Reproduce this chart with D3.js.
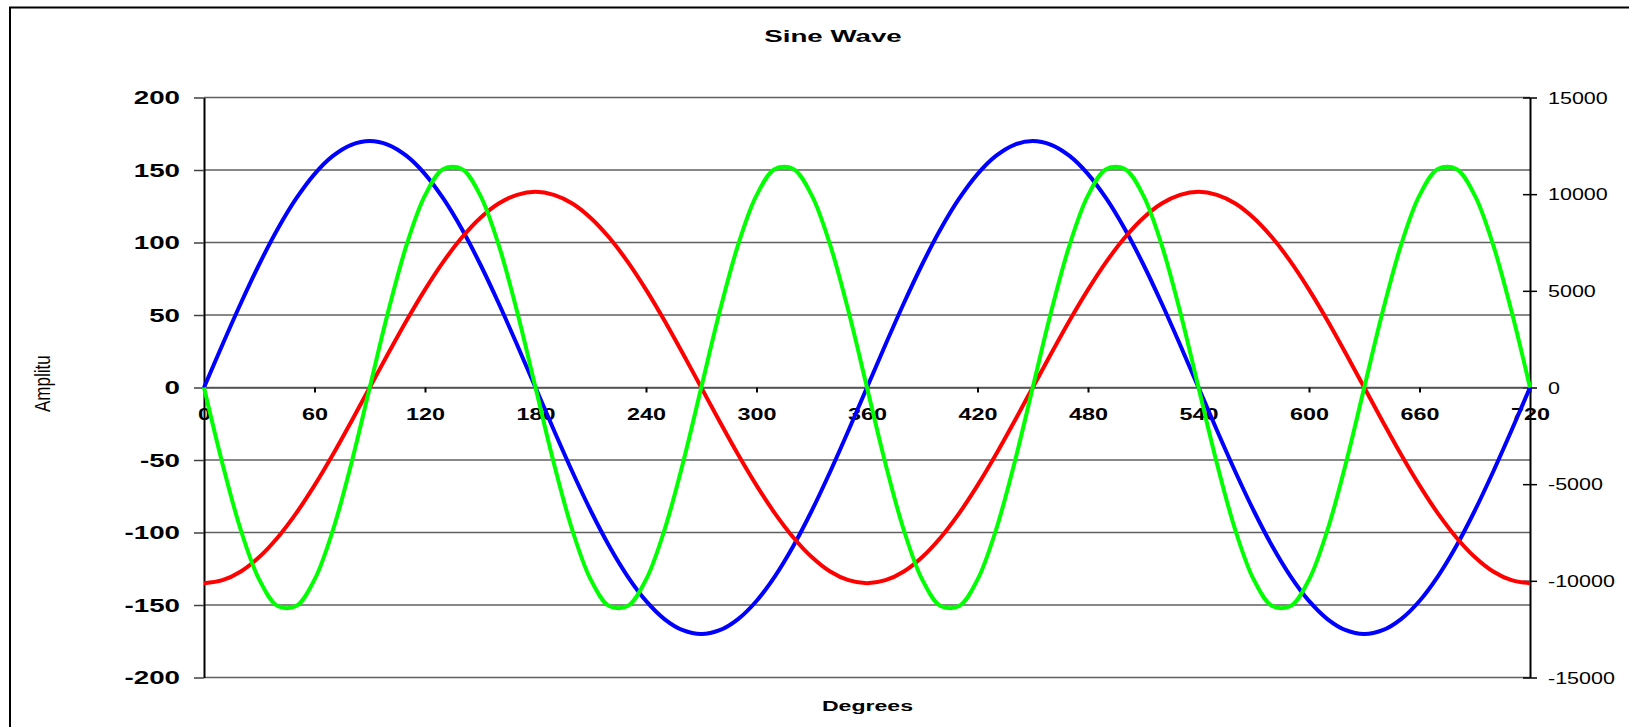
<!DOCTYPE html>
<html>
<head>
<meta charset="utf-8">
<script src="https://cdn.jsdelivr.net/npm/d3@7"></script>
<style>
  body { margin: 0; background: #fff; }
  text { font-family: "Liberation Sans", Arial, sans-serif; }
</style>
</head>
<body>
<div id="chart"></div>
<script>
// chart data (every 10 degrees)
var degrees = d3.range(0, 721, 10);

var blueVals = [0, 29.5, 58.1, 85, 109.3, 130.2, 147.2, 159.7, 167.4, 170, 167.4, 159.7, 147.2, 130.2, 109.3, 85, 58.1, 29.5,
  0, -29.5, -58.1, -85, -109.3, -130.2, -147.2, -159.7, -167.4, -170, -167.4, -159.7, -147.2, -130.2, -109.3, -85, -58.1, -29.5,
  0, 29.5, 58.1, 85, 109.3, 130.2, 147.2, 159.7, 167.4, 170, 167.4, 159.7, 147.2, 130.2, 109.3, 85, 58.1, 29.5,
  0, -29.5, -58.1, -85, -109.3, -130.2, -147.2, -159.7, -167.4, -170, -167.4, -159.7, -147.2, -130.2, -109.3, -85, -58.1, -29.5, 0];

var redVals = [-135, -132.9, -126.9, -116.9, -103.4, -86.8, -67.5, -46.2, -23.4, 0, 23.4, 46.2, 67.5, 86.8, 103.4, 116.9, 126.9, 132.9,
  135, 132.9, 126.9, 116.9, 103.4, 86.8, 67.5, 46.2, 23.4, 0, -23.4, -46.2, -67.5, -86.8, -103.4, -116.9, -126.9, -132.9,
  -135, -132.9, -126.9, -116.9, -103.4, -86.8, -67.5, -46.2, -23.4, 0, 23.4, 46.2, 67.5, 86.8, 103.4, 116.9, 126.9, 132.9,
  135, 132.9, 126.9, 116.9, 103.4, 86.8, 67.5, 46.2, 23.4, 0, -23.4, -46.2, -67.5, -86.8, -103.4, -116.9, -126.9, -132.9, -135];

// green is on the right hand axis
var greenVals = [0, -3925, -7376, -9938, -11301, -11301, -9938, -7376, -3925, 0, 3925, 7376, 9938, 11301, 11301, 9938, 7376, 3925,
  0, -3925, -7376, -9938, -11301, -11301, -9938, -7376, -3925, 0, 3925, 7376, 9938, 11301, 11301, 9938, 7376, 3925,
  0, -3925, -7376, -9938, -11301, -11301, -9938, -7376, -3925, 0, 3925, 7376, 9938, 11301, 11301, 9938, 7376, 3925,
  0, -3925, -7376, -9938, -11301, -11301, -9938, -7376, -3925, 0, 3925, 7376, 9938, 11301, 11301, 9938, 7376, 3925, 0];

var xTicks = [0, 60, 120, 180, 240, 300, 360, 420, 480, 540, 600, 660, 720];
var yTicks = [200, 150, 100, 50, 0, -50, -100, -150, -200];
var y2Ticks = [15000, 10000, 5000, 0, -5000, -10000, -15000];

var W = 1629, H = 727;
var plot = {left: 204, right: 1530, top: 97.5, bottom: 677.5};
var plainNum = function(d) { return String(d); };

var svg = d3.select("#chart").append("svg")
  .attr("width", W)
  .attr("height", H);

// outer chart border (runs off the page on right and bottom)
svg.append("rect")
  .attr("x", 10).attr("y", 7.5)
  .attr("width", 1800).attr("height", 900)
  .attr("fill", "none")
  .attr("stroke", "#000")
  .attr("stroke-width", 2);

var x = d3.scaleLinear().domain([0, 720]).range([plot.left, plot.right]);
var y = d3.scaleLinear().domain([-200, 200]).range([plot.bottom, plot.top]);
var y2 = d3.scaleLinear().domain([-15000, 15000]).range([plot.bottom, plot.top]);

// gridlines
svg.append("g").selectAll("line")
  .data(yTicks)
  .enter().append("line")
  .attr("x1", plot.left).attr("x2", plot.right)
  .attr("y1", function(d) { return y(d); })
  .attr("y2", function(d) { return y(d); })
  .attr("stroke", "#606060")
  .attr("stroke-width", 1.4);

// left axis
var gl = svg.append("g")
  .attr("transform", "translate(" + plot.left + ",0)")
  .call(d3.axisLeft(y).tickValues(yTicks).tickFormat(plainNum).tickSize(10).tickSizeOuter(0));
gl.select(".domain").attr("stroke", "#000").attr("stroke-width", 2);
gl.selectAll(".tick line").attr("stroke", "#404040").attr("stroke-width", 1.5);
gl.selectAll(".tick text")
  .attr("x", -24 / 1.5)
  .attr("dy", "0.35em")
  .attr("transform", "scale(1.5,1)")
  .style("font-size", "18.5px")
  .style("font-weight", "bold")
  .style("font-family", "Liberation Sans, Arial, sans-serif")
  .attr("fill", "#000");

// right axis
var gr = svg.append("g")
  .attr("transform", "translate(" + plot.right + ",0)")
  .call(d3.axisRight(y2).tickValues(y2Ticks).tickFormat(plainNum).tickSize(7).tickSizeOuter(0));
gr.select(".domain").attr("stroke", "#000").attr("stroke-width", 2);
gr.selectAll(".tick line").attr("x1", -7).attr("stroke", "#000").attr("stroke-width", 1.5);
gr.selectAll(".tick text")
  .attr("x", 18 / 1.32)
  .attr("dy", "0.35em")
  .attr("transform", "scale(1.32,1)")
  .style("font-size", "16.3px")
  .style("font-family", "Liberation Sans, Arial, sans-serif")
  .attr("fill", "#000");

// x axis sits on zero
var gx = svg.append("g")
  .attr("transform", "translate(0," + y(0) + ")")
  .call(d3.axisBottom(x).tickValues(xTicks).tickFormat(plainNum).tickSize(5).tickSizeOuter(0));
gx.select(".domain").attr("stroke", "#505050").attr("stroke-width", 1.5);
gx.selectAll(".tick line").attr("stroke", "#000").attr("stroke-width", 2);
gx.selectAll(".tick text")
  .attr("y", 32.5)
  .attr("dy", 0)
  .attr("x", 0)
  .attr("transform", "scale(1.39,1)")
  .style("font-size", "16.8px")
  .style("font-weight", "bold")
  .style("font-family", "Liberation Sans, Arial, sans-serif")
  .attr("fill", "#000");

// series lines
function addLine(vals, scale, color) {
  var pts = degrees.map(function(d, i) { return [d, vals[i]]; });
  svg.append("path")
    .datum(pts)
    .attr("fill", "none")
    .attr("stroke", color)
    .attr("stroke-width", 4)
    .attr("stroke-linejoin", "round")
    .attr("d", d3.line()
      .curve(d3.curveCatmullRom)
      .x(function(d) { return x(d[0]); })
      .y(function(d) { return scale(d[1]); }));
}
addLine(blueVals, y, "#0000ff");
addLine(redVals, y, "#ff0000");
addLine(greenVals, y2, "#00ff00");

// titles
svg.append("text")
  .attr("transform", "translate(833,42) scale(1.68,1)")
  .attr("text-anchor", "middle")
  .style("font-size", "16.5px")
  .style("font-weight", "bold")
  .text("Sine Wave");

svg.append("text")
  .attr("transform", "translate(867.5,711) scale(1.65,1)")
  .attr("text-anchor", "middle")
  .style("font-size", "14px")
  .style("font-weight", "bold")
  .text("Degrees");

// y title is cut off in the original
svg.append("clipPath").attr("id", "ytclip")
  .append("rect").attr("x", 0).attr("y", 355).attr("width", 120).attr("height", 200);
svg.append("g").attr("clip-path", "url(#ytclip)")
  .append("text")
  .attr("transform", "translate(50,412) scale(1.25,1) rotate(-90)")
  .attr("text-anchor", "start")
  .style("font-size", "17px")
  .text("Amplitude");
</script>
</body>
</html>
